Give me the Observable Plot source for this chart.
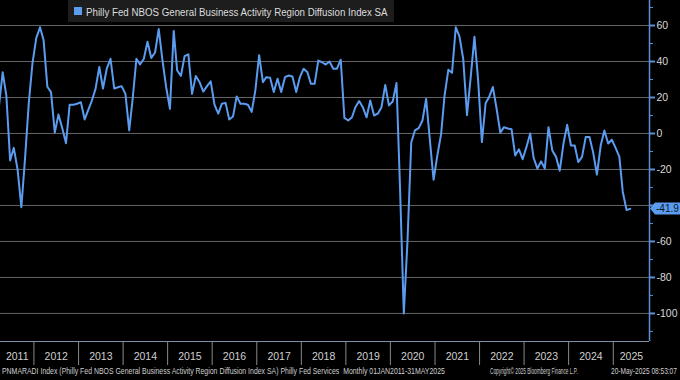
<!DOCTYPE html>
<html>
<head>
<meta charset="utf-8">
<script src="https://cdn.jsdelivr.net/npm/d3@7"></script>
<script src="https://cdn.jsdelivr.net/npm/@observablehq/plot@0.6"></script>
<style>
  html, body { margin: 0; padding: 0; background: #000; }
  #chart { width: 680px; height: 380px; overflow: hidden; }
</style>
</head>
<body>
<div id="chart"></div>
<script>
// ---- data (monthly, Mar 2011 .. May 2025) ----
const seriesName = "Philly Fed NBOS General Business Activity Region Diffusion Index SA";
const firstYear = 2011;
const firstMonthIndex = 2; // March (0-based)
const values = [
  /* 2011 */ 15, 34, 21, -15, -8, -20, -41, -14, 17, 39,
  /* 2012 */ 53, 59, 52, 26, 23, 0.5, 10.5, 3, -5.4, 16, 16, 16.5,
  /* 2013 */ 17.4, 7.8, 12.8, 18.3, 24.8, 37, 25, 36, 41.5, 25, 25.7, 26.3,
  /* 2014 */ 22, 1.7, 19, 41.5, 38.3, 41.5, 51, 42, 45, 58, 40.5, 25.7,
  /* 2015 */ 13.7, 57, 35, 32, 43, 44, 22, 32, 28.5, 23.3, 26.3, 29,
  /* 2016 */ 16, 11, 16.5, 17, 7.8, 9.4, 20.6, 16.5, 16.5, 16, 12, 24,
  /* 2017 */ 43.5, 28.5, 31.3, 31, 23, 30.4, 23, 31.3, 32.2, 31.7, 23, 31.3,
  /* 2018 */ 36, 34, 27.6, 27.6, 40.5, 39.6, 38.3, 40, 36, 36, 41, 8.7,
  /* 2019 */ 7.2, 9, 14.6, 18, 14.6, 9, 18.3, 10, 11, 14.6, 27, 15.6,
  /* 2020 */ 17.8, 28, -30, -100, -60, -5, 1.7, 3, 7.2, 19.2, -4, -25.7,
  /* 2021 */ -12.2, -0.2, 21, 35.4, 33.7, 59, 54, 41.5, 10.2, 31, 53.8, 29.8,
  /* 2022 */ -4.8, 17, 20.2, 25.8, 14, 0.5, 3.5, 2.8, 2.4, -12.2, -8.8, -14.3,
  /* 2023 */ -7.6, 0, -13.5, -19.5, -15.5, -19.5, 3.5, -9.4, -13, -20.7, -5.6, 4.8,
  /* 2024 */ -6.7, -6.7, -15.9, -13, -2, -2, -10.5, -22.8, -6.7, 1.7, -5.6, -3.5,
  /* 2025 */ -8, -13, -32.5, -42.5, -41.9
];
const lastLabel = "-41.9";
const yearLabels = ["2011","2012","2013","2014","2015","2016","2017","2018","2019","2020","2021","2022","2023","2024","2025"];
const majorTicks = [-100, -80, -60, -40, -20, 0, 20, 40, 60];
const minorTicks = [-110, -90, -70, -50, -30, -10, 10, 30, 50, 70];
const footerLeft = "PNMARADI Index (Philly Fed NBOS General Business Activity Region Diffusion Index SA) Philly Fed Services  Monthly 01JAN2011-31MAY2025";
const footerMid = "Copyright\u00A9 2025 Bloomberg Finance L.P.";
const footerRight = "20-May-2025 08:53:07";

// ---- derived table ----
const data = values.map((v, i) => ({
  date: new Date(Date.UTC(firstYear, firstMonthIndex + i, 20)),
  value: v
}));
const last = data[data.length - 1];

const xStart = new Date(Date.UTC(2011, 3, 2));
const xEnd = new Date(Date.UTC(2025, 9, 25));
const yDomain = [-115.6, 73.9];

// tick labels hidden behind the last-value tag
const labelledTicks = majorTicks.filter(t => Math.abs(t - last.value) > 5);

const separators = yearLabels.slice(1).map(y => new Date(Date.UTC(+y, 0, 1)));
const labelTicks = yearLabels.map(y => {
  const a = Math.max(+new Date(Date.UTC(+y, 0, 1)), +xStart);
  const b = Math.min(+new Date(Date.UTC(+y + 1, 0, 1)), +xEnd);
  return new Date((a + b) / 2);
});
const labelOf = new Map(labelTicks.map((d, i) => [+d, yearLabels[i]]));

const FONT = "'Liberation Sans Narrow', 'Liberation Sans', sans-serif";
const LINE = "#5b9cf0";
const AXIS = "#5b8fd6";

const plot = Plot.plot({
  width: 680,
  height: 380,
  marginLeft: 0,
  marginRight: 31,
  marginTop: 0,
  marginBottom: 39,
  style: { background: "#000", color: "#d0d0d0", fontFamily: FONT, overflow: "visible" },
  x: { type: "utc", domain: [xStart, xEnd], axis: null },
  y: { domain: yDomain, axis: null },
  marks: [
    Plot.gridY(majorTicks, { stroke: "#646464", strokeOpacity: 1, strokeWidth: 1 }),
    Plot.ruleY([yDomain[0]], { stroke: "#8090a8", strokeWidth: 1 }),
    Plot.ruleX([xEnd], { stroke: AXIS, strokeWidth: 1.5 }),
    Plot.axisY(majorTicks, { anchor: "right", label: null, tickSize: 5, text: null, stroke: AXIS, strokeWidth: 2 }),
    Plot.axisY(labelledTicks, { anchor: "right", label: null, tickSize: 5, tickPadding: 2, stroke: "none", fill: "#d8d8d8", fontSize: 10.5, tickFormat: d => String(d) }),
    Plot.axisY(minorTicks, { anchor: "right", label: null, tickSize: 3, text: null, stroke: AXIS, strokeWidth: 1 }),
    Plot.axisX(separators, { anchor: "bottom", label: null, tickSize: 24, text: null, stroke: "#8a8a8a", strokeWidth: 1 }),
    Plot.axisX(labelTicks, { anchor: "bottom", label: null, tickSize: 0, tickPadding: 11, fill: "#d0d0d0", fontSize: 10.5, tickFormat: d => labelOf.get(+d) }),
    Plot.lineY(data, { x: "date", y: "value", stroke: LINE, strokeWidth: 2, clip: true })
  ]
});

document.getElementById("chart").appendChild(plot);

// ---- overlays drawn from the plot's own scales ----
const svg = d3.select(plot);
const xs = plot.scale("x");
const ys = plot.scale("y");
const px = xs.apply(xEnd);
const py = ys.apply(last.value);

// text squeezed horizontally to a given width (condensed look)
function fitText(g, x, y, width, str, size, fill) {
  const t = g.append("text")
    .attr("x", 0).attr("y", 0).attr("dy", "0.35em")
    .attr("text-anchor", "start")
    .attr("font-size", size).attr("font-family", "'Liberation Sans', sans-serif")
    .attr("fill", fill)
    .text(str);
  const w = t.node().getComputedTextLength();
  t.attr("transform", `translate(${x},${y}) scale(${(width / w).toFixed(4)},1)`);
  return t;
}

const tag = svg.append("g");
tag.append("path")
  .attr("d", `M${px + 1},${py} L${px + 6},${py - 6} L680,${py - 6} L680,${py + 6} L${px + 6},${py + 6} Z`)
  .attr("fill", LINE);
fitText(tag, px + 7, py, 23, lastLabel, 11, "#0b1626");

// legend
const lg = svg.append("g");
lg.append("rect").attr("x", 68).attr("y", 0).attr("width", 326).attr("height", 22).attr("fill", "#1d1d1d");
lg.append("rect").attr("x", 74).attr("y", 7).attr("width", 8).attr("height", 8).attr("fill", LINE);
fitText(lg, 86, 11.5, 302, seriesName, 11.5, "#dcdcdc");

// footer
const ft = svg.append("g");
fitText(ft, 2, 371, 443, footerLeft, 8.5, "#cfcfcf");
fitText(ft, 490, 371, 88, footerMid, 8.5, "#cfcfcf");
fitText(ft, 611, 371, 66, footerRight, 8.5, "#cfcfcf");
</script>
</body>
</html>
